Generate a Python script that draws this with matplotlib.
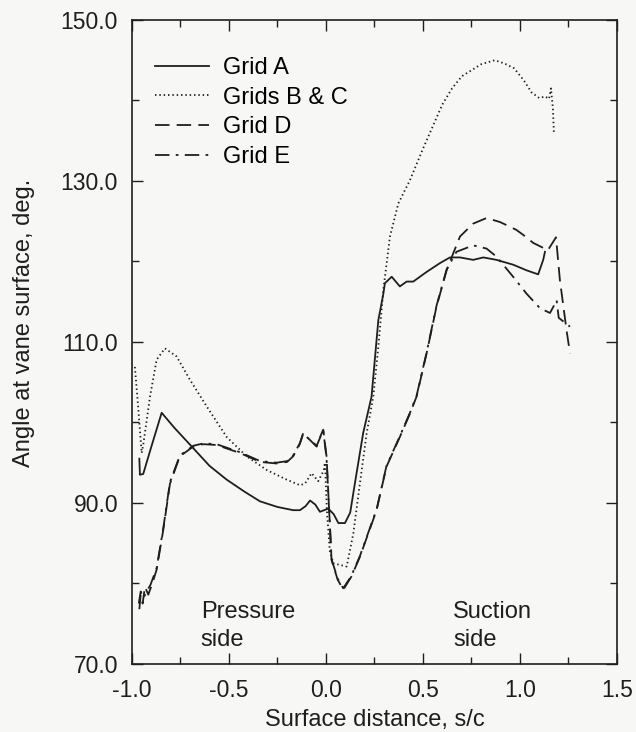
import matplotlib
matplotlib.use("Agg")
import matplotlib.pyplot as plt
from matplotlib.ticker import MultipleLocator, FormatStrFormatter

plt.rcParams["font.family"] = ["Liberation Sans", "DejaVu Sans"]

# Grid A (solid)
xa = [-0.962, -0.959, -0.942, -0.90, -0.847, -0.78, -0.684, -0.60, -0.512, -0.42, -0.340, -0.25,
      -0.169, -0.134, -0.105, -0.082, -0.055, -0.031, 0.012, 0.04, 0.064, 0.098, 0.125, 0.149,
      0.192, 0.235, 0.270, 0.296, 0.304, 0.339, 0.381, 0.416, 0.450, 0.519, 0.588, 0.639, 0.691,
      0.759, 0.811, 0.879, 0.965, 1.034, 1.094, 1.120, 1.129]
ya = [95.5, 93.5, 93.6, 97.0, 101.2, 99.3, 96.8, 94.6, 92.9, 91.4, 90.2, 89.5,
      89.1, 89.1, 89.6, 90.3, 89.8, 88.9, 89.3, 88.6, 87.5, 87.5, 88.8, 92.4,
      98.7, 103.2, 112.7, 116.0, 117.3, 118.1, 116.9, 117.5, 117.5, 118.7, 119.8, 120.5, 120.5,
      120.2, 120.5, 120.2, 119.6, 118.9, 118.4, 120.2, 121.2]

# Grids B & C (dotted)
xbc = [-0.985, -0.97, -0.95, -0.942, -0.907, -0.873, -0.830, -0.770, -0.701, -0.615, -0.512,
       -0.409, -0.306, -0.203, -0.134, -0.108, -0.074, -0.040, -0.012, -0.005, 0.005, 0.02,
       0.038, 0.107, 0.141, 0.175, 0.210, 0.244, 0.270, 0.296, 0.330, 0.373, 0.433, 0.5, 0.6,
       0.65, 0.7, 0.8, 0.87, 0.92, 0.97, 1.02, 1.06, 1.1, 1.13, 1.15, 1.16, 1.17, 1.175]
ybc = [106.9, 102.5, 96.2, 97.2, 103.2, 107.8, 109.2, 108.2, 105.3, 102.0, 98.2,
       95.8, 94.1, 92.9, 92.2, 92.4, 93.7, 92.7, 94.0, 95.0, 89.0, 84.0,
       82.5, 82.1, 86.2, 92.4, 98.7, 103.2, 109.4, 116.5, 123.1, 127.2, 130.1, 134.0, 139.5,
       141.5, 143.0, 144.5, 145.0, 144.6, 144.0, 142.5, 141.0, 140.3, 140.5, 140.2, 141.5, 139.0, 136.0]

# Grid D (dashed)
xd = [-0.962, -0.955, -0.945, -0.933, -0.916, -0.895, -0.873, -0.839, -0.804, -0.753, -0.684,
      -0.632, -0.564, -0.443, -0.340, -0.254, -0.20, -0.169, -0.135, -0.117, -0.09, -0.048,
      -0.025, -0.014, 0.003, 0.029, 0.06, 0.089, 0.13, 0.175, 0.261, 0.312, 0.381, 0.433,
      0.467, 0.519, 0.570, 0.622, 0.656, 0.691, 0.759, 0.828, 0.897, 0.95, 0.983, 1.017,
      1.069, 1.144, 1.186, 1.206, 1.240, 1.258]
yd = [76.8, 78.6, 77.5, 79.6, 78.6, 80.0, 81.7, 86.6, 92.4, 95.8, 97.0,
      97.3, 97.2, 96.2, 95.1, 94.9, 95.1, 95.8, 97.3, 98.7, 98.0, 97.0,
      98.5, 99.1, 95.8, 82.9, 80.5, 79.2, 80.8, 83.3, 89.1, 94.5, 98.2, 101.1,
      103.2, 108.6, 114.4, 118.9, 121.0, 123.1, 124.7, 125.4, 124.9, 124.3, 123.9, 123.3,
      122.3, 121.4, 123.0, 117.7, 111.5, 108.6]

# Grid E (dash-dot)
xe = [-0.965, -0.955, -0.940, -0.925, -0.905, -0.873, -0.839, -0.804, -0.753, -0.684,
      -0.632, -0.564, -0.443, -0.340, -0.254, -0.20, -0.169, -0.135, -0.117, -0.09, -0.048,
      -0.025, -0.014, 0.003, 0.029, 0.06, 0.089, 0.13, 0.175, 0.261, 0.312, 0.381, 0.433,
      0.467, 0.519, 0.570, 0.622, 0.673, 0.759, 0.828, 0.879, 0.965, 1.034, 1.103, 1.155,
      1.175, 1.189, 1.20, 1.258]
ye = [77.5, 79.0, 78.2, 79.0, 79.8, 81.9, 86.8, 92.6, 95.9, 97.1,
      97.4, 97.3, 96.3, 95.2, 95.0, 95.2, 95.9, 97.4, 98.6, 98.0, 97.1,
      98.4, 99.0, 95.6, 83.0, 80.6, 79.4, 80.9, 83.4, 89.2, 94.6, 98.3, 101.2,
      103.3, 108.7, 114.5, 119.0, 121.2, 122.0, 121.6, 120.6, 118.1, 116.0, 114.2, 113.6,
      114.5, 115.2, 113.0, 111.9]

yticks = [70.0, 90.0, 110.0, 130.0, 150.0]
yminor = [80.0, 100.0, 120.0, 140.0]

INK = "#1e1e1e"
BG = "#f7f7f5"
FS = 17

fig = plt.figure(figsize=(6.36, 7.32), dpi=100, facecolor=BG)
ax = fig.add_axes([0.2075, 0.093, 0.7625, 0.8797], facecolor=BG)

ax.plot(xa, ya, color=INK, lw=1.3, label="Grid A")
ax.plot(xbc, ybc, color=INK, lw=1.3, dashes=(0.8, 1.6), label="Grids B & C")
ax.plot(xd, yd, color=INK, lw=1.3, dashes=(8, 4), label="Grid D")
ax.plot(xe, ye, color=INK, lw=1.3, dashes=(8, 3.5, 1.5, 3.5), label="Grid E")

ax.set_xlim(-1.0, 1.5)
ax.set_ylim(70.0, 150.0)
ax.xaxis.set_major_locator(MultipleLocator(0.5))
ax.xaxis.set_minor_locator(MultipleLocator(0.25))
ax.set_yticks(yticks)
ax.set_yticks(yminor, minor=True)
ax.xaxis.set_major_formatter(FormatStrFormatter("%.1f"))
ax.yaxis.set_major_formatter(FormatStrFormatter("%.1f"))
ax.tick_params(which="both", direction="in", top=True, right=True, color=INK, width=1.0,
               labelsize=16.5, labelcolor=INK)
ax.tick_params(which="major", length=8)
ax.tick_params(which="minor", length=5)
ax.tick_params(axis="x", pad=11)
ax.tick_params(axis="y", pad=10)
for s in ax.spines.values():
    s.set_color(INK); s.set_linewidth(1.2)

ax.set_xlabel("Surface distance, s/c", fontsize=FS, color=INK, labelpad=5)
ax.set_ylabel("Angle at vane surface, deg.", fontsize=FS, color=INK)
ax.yaxis.set_label_coords(-0.20, 0.53)

ax.text(-0.645, 77.8, "Pressure\nside", fontsize=FS, color=INK, va="top", ha="left", linespacing=1.35)
ax.text(0.655, 77.8, "Suction\nside", fontsize=FS, color=INK, va="top", ha="left", linespacing=1.35)

ax.legend(loc="upper left", frameon=False, fontsize=FS, handlelength=2.3, handletextpad=0.6,
          labelspacing=0.32, bbox_to_anchor=(0.027, 0.957), borderaxespad=0.0)

fig.savefig("out.png", dpi=100, facecolor=BG)
